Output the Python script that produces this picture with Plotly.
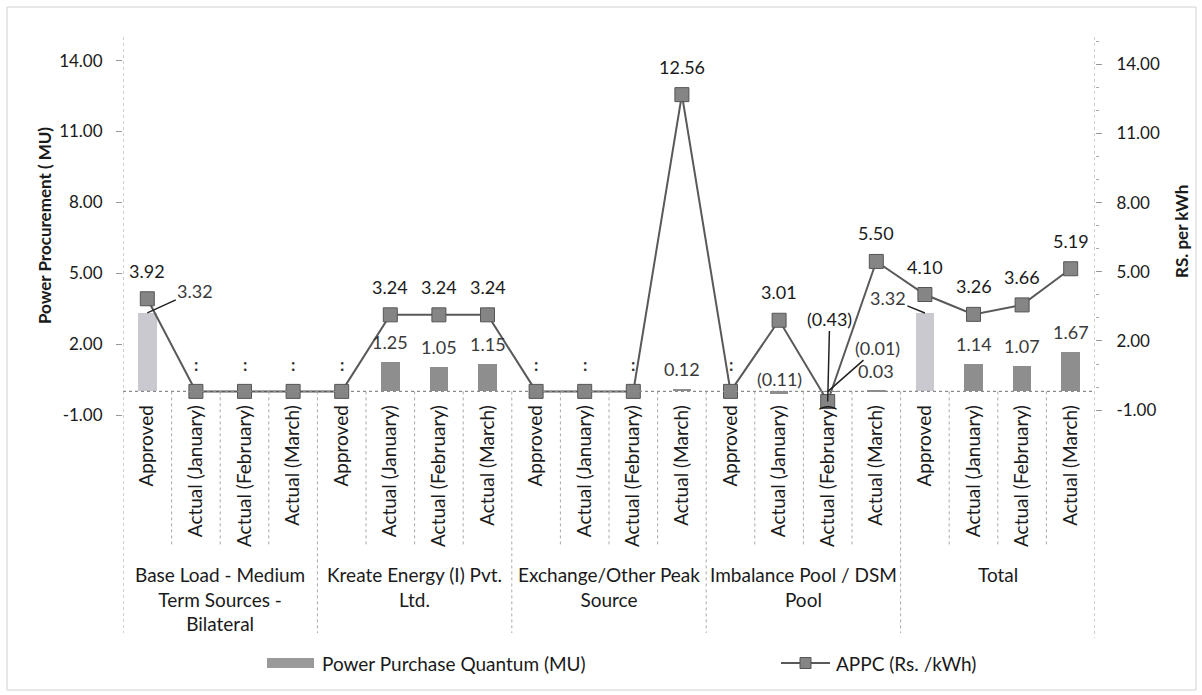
import plotly.graph_objects as go

# ---------------- data ----------------
groups = [
    "Base Load - Medium<br>Term Sources -<br>Bilateral",
    "Kreate Energy (I) Pvt.<br>Ltd.",
    "Exchange/Other Peak<br>Source",
    "Imbalance Pool / DSM<br>Pool",
    "Total",
]
periods = ["Approved", "Actual (January)", "Actual (February)", "Actual (March)"]

quantum_mu = [3.32, 0.00, 0.00, 0.00,
              0.00, 1.25, 1.05, 1.15,
              0.00, 0.00, 0.00, 0.12,
              0.00, -0.11, -0.01, 0.03,
              3.32, 1.14, 1.07, 1.67]
appc_rs = [3.92, 0.00, 0.00, 0.00,
           0.00, 3.24, 3.24, 3.24,
           0.00, 0.00, 0.00, 12.56,
           0.00, 3.01, -0.43, 5.50,
           4.10, 3.26, 3.66, 5.19]

y_ticks = [-1, 2, 5, 8, 11, 14]

# ---------------- layout geometry (pixels) ----------------
W, H = 1202, 695
L, R, T, B = 123, 107, 37, 280
PW, PH = W - L - R, H - T - B
FONT = "Lato, 'Liberation Sans', Arial, sans-serif"
FS_NUM = 17
FS_TXT = 19

def px_x(px):
    return (px - L) / PW

def px_y(py):
    return (H - B - py) / PH

def fmt(v):
    return f"({abs(v):.2f})" if v < 0 else f"{v:.2f}"

n = len(groups) * len(periods)
xi = list(range(n))
ticktext = periods * len(groups)
bar_colors = ["#c9c9cf" if p == "Approved" else "#8e8e8e" for p in ticktext]

fig = go.Figure()
fig.add_trace(go.Bar(
    x=xi, y=quantum_mu, width=0.38, marker=dict(color=bar_colors, line=dict(width=0)),
    name="Power Purchase Quantum (MU)", showlegend=False))
fig.add_trace(go.Scatter(
    x=xi, y=appc_rs, mode="lines+markers", name="APPC (Rs. /kWh)",
    line=dict(color="#595959", width=2),
    marker=dict(symbol="square", size=14, color="#858585", line=dict(color="#555555", width=1)),
    showlegend=False))
# empty trace so that the secondary (right) axis is drawn
fig.add_trace(go.Scatter(x=[None], y=[None], yaxis="y2", showlegend=False, hoverinfo="skip"))

ymin, ymax = -1, 15
zero_paper = (0 - ymin) / (ymax - ymin)

shapes = []
# outer frame
shapes.append(dict(type="rect", xref="paper", yref="paper",
                   x0=px_x(7), x1=px_x(1196), y0=px_y(7), y1=px_y(690),
                   line=dict(color="#d0d0d0", width=1)))
# zero line
shapes.append(dict(type="line", xref="x", yref="y", x0=-0.5, x1=n - 0.5, y0=0, y1=0,
                   line=dict(color="#8a8a8a", width=1.2, dash="dot")))
# left / right axis lines
shapes.append(dict(type="line", xref="x", yref="paper", x0=-0.5, x1=-0.5, y0=1, y1=px_y(633),
                   line=dict(color="#a0a0a0", width=1, dash="dot")))
shapes.append(dict(type="line", xref="x", yref="paper", x0=n - 0.5, x1=n - 0.5, y0=1, y1=px_y(638),
                   line=dict(color="#a0a0a0", width=1, dash="dot")))
# category separators
for k in range(1, n):
    is_group = k % len(periods) == 0
    shapes.append(dict(type="line", xref="x", yref="paper", x0=k - 0.5, x1=k - 0.5,
                       y0=zero_paper, y1=px_y(633 if is_group else 547),
                       line=dict(color="#a8a8a8", width=1, dash="dot")))

# manual legend
shapes.append(dict(type="rect", xref="paper", yref="paper",
                   x0=px_x(267), x1=px_x(314), y0=px_y(658), y1=px_y(668),
                   fillcolor="#9a9a9a", line=dict(width=0)))
shapes.append(dict(type="line", xref="paper", yref="paper",
                   x0=px_x(781), x1=px_x(830), y0=px_y(663), y1=px_y(663),
                   line=dict(color="#595959", width=2)))
shapes.append(dict(type="rect", xref="paper", yref="paper",
                   x0=px_x(800), x1=px_x(811), y0=px_y(657.5), y1=px_y(668.5),
                   fillcolor="#858585", line=dict(color="#555555", width=1)))

ann = []
lab_font = dict(family=FONT, size=18, color="#1a1a1a")
bar_font = dict(family=FONT, size=18, color="#3a3a3a")
txt_font = dict(family=FONT, size=FS_TXT, color="#1a1a1a")

# line value labels
line_special = {14: dict(ax=2, ay=-83)}
for i, v in enumerate(appc_rs):
    if v == 0:
        continue
    if i in line_special:
        ann.append(dict(x=i, y=v, xref="x", yref="y", text=fmt(v), showarrow=True,
                        arrowhead=0, arrowwidth=1.5, arrowcolor="#222", standoff=0,
                        font=lab_font, **line_special[i]))
    else:
        ann.append(dict(x=i, y=v, xref="x", yref="y", text=fmt(v), showarrow=False,
                        yanchor="middle", yshift=28, font=lab_font))

# bar value labels
bar_special = {0: dict(ax=48, ay=-22), 16: dict(ax=-37, ay=-15), 14: dict(ax=50, ay=-44)}
for i, v in enumerate(quantum_mu):
    if i in bar_special:
        ann.append(dict(x=i, y=v, xref="x", yref="y", text=fmt(v), showarrow=True,
                        arrowhead=0, arrowwidth=1.5, arrowcolor="#222", standoff=0,
                        font=bar_font, **bar_special[i]))
    elif v == 0:
        ann.append(dict(x=i, y=0, xref="x", yref="y", text="<b>:</b>", showarrow=False,
                        yanchor="middle", yshift=27, font=dict(family=FONT, size=17, color="#333")))
    elif v < 0:
        ann.append(dict(x=i, y=0, xref="x", yref="y", text=fmt(v), showarrow=False,
                        yanchor="middle", yshift=12, font=bar_font))
    else:
        ann.append(dict(x=i, y=v, xref="x", yref="y", text=fmt(v), showarrow=False,
                        yanchor="middle", yshift=20, font=bar_font))

# group labels
for g, name in enumerate(groups):
    ann.append(dict(x=g * len(periods) + (len(periods) - 1) / 2, y=px_y(561), xref="x", yref="paper",
                    text=name, showarrow=False, xanchor="center", yanchor="top",
                    align="center", font=txt_font))

# axis titles
ann.append(dict(x=px_x(44), y=px_y(226), xref="paper", yref="paper", text="<b>Power Procurement ( MU)</b>",
                textangle=-90, showarrow=False, xanchor="center", yanchor="middle",
                font=dict(family=FONT, size=17, color="#1a1a1a")))
ann.append(dict(x=px_x(1182), y=px_y(232), xref="paper", yref="paper", text="<b>RS. per kWh</b>",
                textangle=-90, showarrow=False, xanchor="center", yanchor="middle",
                font=dict(family=FONT, size=17, color="#1a1a1a")))

# legend texts
ann.append(dict(x=px_x(320), y=px_y(663), xref="paper", yref="paper", text="Power Purchase Quantum (MU)",
                xanchor="left", yanchor="middle", showarrow=False, font=txt_font))
ann.append(dict(x=px_x(834), y=px_y(663), xref="paper", yref="paper", text="APPC (Rs. /kWh)",
                xanchor="left", yanchor="middle", showarrow=False, font=txt_font))

fig.update_layout(
    width=W, height=H, margin=dict(l=L, r=R, t=T, b=B),
    paper_bgcolor="white", plot_bgcolor="white",
    font=dict(family=FONT, size=FS_NUM, color="#1a1a1a"),
    bargap=0, showlegend=False,
    xaxis=dict(range=[-0.5, n - 0.5], tickmode="array", tickvals=xi, ticktext=ticktext,
               tickangle=-90, anchor="free", position=zero_paper, showline=False, ticks="",
               ticklabelstandoff=9, showgrid=False, zeroline=False,
               tickfont=dict(family=FONT, size=FS_TXT, color="#1a1a1a")),
    yaxis=dict(range=[ymin, ymax], tickmode="array", tickvals=y_ticks,
               ticktext=[f"{t:.2f}" for t in y_ticks], ticks="outside", ticklen=6,
               tickcolor="#999", showline=False, showgrid=False, zeroline=False,
               ticklabelstandoff=10, tickfont=dict(family=FONT, size=FS_NUM, color="#1a1a1a")),
    yaxis2=dict(range=[-1.21, 15.18], overlaying="y", side="right", tickmode="array",
                tickvals=y_ticks, ticktext=[f"{t:.2f}" for t in y_ticks], ticks="outside",
                ticklen=6, tickcolor="#999", showline=False, showgrid=False, zeroline=False,
                minor=dict(ticks="outside", ticklen=3, tickcolor="#aaa", nticks=5),
                ticklabelstandoff=11, tickfont=dict(family=FONT, size=FS_NUM, color="#1a1a1a")),
    shapes=shapes, annotations=ann,
)

fig.write_html("out.html")
